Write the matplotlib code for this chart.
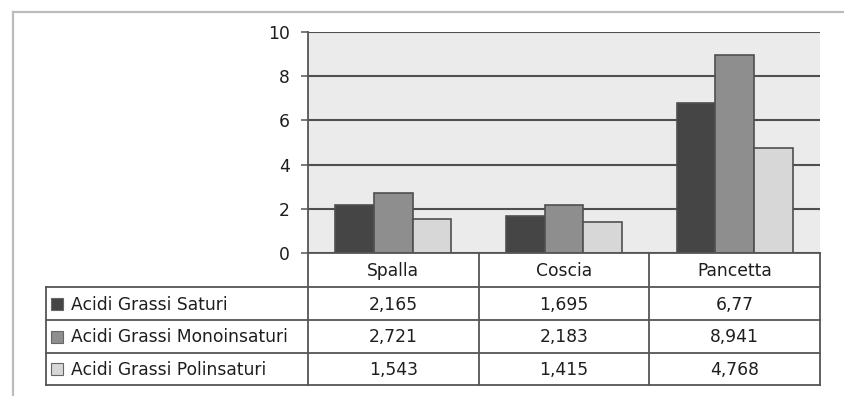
import matplotlib
matplotlib.use("Agg")
import matplotlib.pyplot as plt
from matplotlib.patches import Rectangle
from matplotlib.lines import Line2D
import numpy as np

plt.rcParams['font.family'] = ['DejaVu Sans']

# --- data -------------------------------------------------------------
categories = ["Spalla", "Coscia", "Pancetta"]
series_names = ["Acidi Grassi Saturi", "Acidi Grassi Monoinsaturi", "Acidi Grassi Polinsaturi"]
saturi = [2.165, 1.695, 6.77]
monoinsaturi = [2.721, 2.183, 8.941]
polinsaturi = [1.543, 1.415, 4.768]
y_ticks = [0, 2, 4, 6, 8, 10]

series_values = [saturi, monoinsaturi, polinsaturi]
series_colors = ["#454545", "#8e8e8e", "#d7d7d7"]
edge_col = "#4f4f4f"


def fmt(v):
    return str(v).replace(".", ",")


# --- figure, in pixel units -------------------------------------------
W, H = 844, 396
fig = plt.figure(figsize=(W / 100, H / 100), dpi=100)
fig.patch.set_facecolor("white")

px0, px1, py_top, py_bot = 308, 820, 32, 253
ax = fig.add_axes([px0 / W, 1 - py_bot / H, (px1 - px0) / W, (py_bot - py_top) / H])
ax.set_facecolor("#ebebeb")

n = len(categories)
x = np.arange(n)
bw = 0.226
for i, (vals, col) in enumerate(zip(series_values, series_colors)):
    ax.bar(x + (i - 1) * bw, vals, width=bw, color=col, edgecolor=edge_col,
           linewidth=1.2, zorder=3)

fs = 12.3
ax.set_xlim(-0.5, n - 0.5)
ax.set_ylim(0, 10)
ax.set_yticks(y_ticks)
ax.set_yticklabels([str(t) for t in y_ticks], fontsize=fs, color="#1e1e1e")
ax.set_xticks([])
ax.yaxis.grid(True, color="#4f4f4f", linewidth=1.5, zorder=1)
ax.set_axisbelow(True)
ax.tick_params(axis="y", direction="out", length=5, width=1.1, color="#555555", pad=8)
for s in ("top", "right", "bottom"):
    ax.spines[s].set_visible(False)
ax.spines["left"].set_color("#555555")
ax.spines["left"].set_linewidth(1.3)

# --- overlay for the data table and frame ------------------------------
ov = fig.add_axes([0, 0, 1, 1], zorder=5)
ov.set_xlim(0, W)
ov.set_ylim(H, 0)
ov.axis("off")
ov.patch.set_alpha(0)

# outer frame
ov.add_line(Line2D([13, W], [12, 12], color="#bcbcbc", linewidth=1.6))
ov.add_line(Line2D([13, 13], [12, H], color="#bcbcbc", linewidth=1.6))

lab_x0 = 46
col_w = (px1 - px0) / n
row_edges = [253, 287, 320, 353, 385]
lc = "#555555"
lw = 1.3

# horizontal lines
ov.add_line(Line2D([px0, px1], [row_edges[0]] * 2, color=lc, linewidth=lw))
for yy in row_edges[1:]:
    ov.add_line(Line2D([lab_x0, px1], [yy] * 2, color=lc, linewidth=lw))
# vertical lines
ov.add_line(Line2D([lab_x0, lab_x0], [row_edges[1], row_edges[-1]], color=lc, linewidth=lw))
for j in range(n + 1):
    xx = px0 + j * col_w
    ov.add_line(Line2D([xx, xx], [row_edges[0], row_edges[-1]], color=lc, linewidth=lw))

# header
for j, c in enumerate(categories):
    ov.text(px0 + (j + 0.5) * col_w, (row_edges[0] + row_edges[1]) / 2 + 1, c,
            ha="center", va="center", fontsize=fs, color="#1e1e1e")

# rows
for i, (name, vals, col) in enumerate(zip(series_names, series_values, series_colors)):
    yc = (row_edges[i + 1] + row_edges[i + 2]) / 2
    ov.add_patch(Rectangle((51, yc - 6), 12, 12, facecolor=col, edgecolor="#666666",
                           linewidth=0.8))
    ov.text(71, yc + 1, name, ha="left", va="center", fontsize=fs, color="#1e1e1e")
    for j, v in enumerate(vals):
        ov.text(px0 + (j + 0.5) * col_w, yc + 1, fmt(v), ha="center", va="center",
                fontsize=fs, color="#1e1e1e")

fig.savefig("out.png", dpi=100, facecolor="white")
